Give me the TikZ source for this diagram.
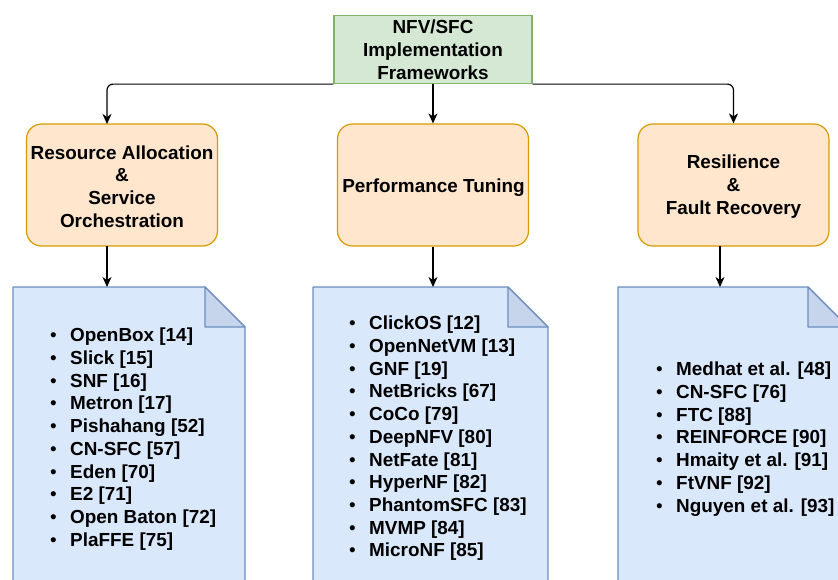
\documentclass[tikz,border=0pt]{standalone}
\usepackage{fontspec}
\setmainfont{Liberation Sans}
\usetikzlibrary{arrows.meta}
\definecolor{gfill}{HTML}{D5E8D4}
\definecolor{gline}{HTML}{82B366}
\definecolor{ofill}{HTML}{FFE6CC}
\definecolor{oline}{HTML}{D79B00}
\definecolor{bfill}{HTML}{DAE8FC}
\definecolor{bline}{HTML}{6C8EBF}
\definecolor{bfold}{HTML}{C6D5EC}
\newcommand\mybul{\llap{\mdseries\textbullet\hspace{13.5pt}}}
\begin{document}
\begin{tikzpicture}[x=1pt,y=-1pt,
  txt/.style={font=\fontsize{18.9}{22.8}\selectfont\bfseries, align=center, text=black, inner sep=0pt},
  topbox/.style={draw=gline, fill=gfill, line width=1.2pt, minimum width=198pt, minimum height=68pt, inner sep=0pt, txt},
  catbox/.style={draw=oline, fill=ofill, line width=1.2pt, rounded corners=15pt, minimum width=191pt, minimum height=122pt, inner sep=0pt},
  itemtxt/.style={font=\fontsize{18.9}{22.5}\selectfont\bfseries, anchor=base west, inner sep=0pt, text=black},
  arr/.style={draw=black, line width=1.2pt, -{Stealth[length=10pt,width=9pt,inset=3pt]}},
  doc/.style={draw=bline, fill=bfill, line width=1.2pt, line join=round},
  fold/.style={draw=bline, fill=bfold, line width=1.2pt, line join=round}]
\useasboundingbox (0,0) rectangle (838,579);
\clip (0,0) rectangle (838,579);

% documents
\draw[doc] (13,287) -- (205,287) -- (245,327) -- (245,620) -- (13,620) -- cycle;
\draw[fold] (205,287) -- (205,327) -- (245,327) -- cycle;
\draw[doc] (313,287) -- (508,287) -- (548,327) -- (548,620) -- (313,620) -- cycle;
\draw[fold] (508,287) -- (508,327) -- (548,327) -- cycle;
\draw[doc] (618,287) -- (808,287) -- (848,327) -- (848,620) -- (618,620) -- cycle;
\draw[fold] (808,287) -- (808,327) -- (848,327) -- cycle;
\coordinate (da) at (107,287);
\coordinate (db) at (433,287);
\coordinate (dc) at (720,287);

% boxes
\node[topbox] (top) at (433,49.5) {NFV/SFC\\Implementation\\Frameworks};
\node[catbox] (ra) at (122,185) {};
\node[catbox] (pt) at (433,185) {};
\node[catbox] (rf) at (733.5,185) {};
\node[txt] (ratxt) at (122,186.5) {Resource Allocation\\\&\\Service\\Orchestration};
\node[txt] (pttxt) at (433.5,187.5) {Performance Tuning};
\node[txt] (rftxt) at (733.5,186.5) {Resilience\\\&\\Fault Recovery};

\coordinate (raN) at (107,124);
\coordinate (raS) at (107,246);
\coordinate (rfS) at (720,246);

% connectors
\draw[arr, rounded corners=6pt] (top.south west) -| (raN);
\draw[arr] (top.south) -- (pt.north);
\draw[arr, rounded corners=6pt] (top.south east) -| (rf.north);
\draw[arr] (raS) -- (da);
\draw[arr] (pt.south) -- (db);
\draw[arr] (rfS) -- (dc);

% lists
\foreach \t [count=\i from 0] in {{OpenBox [14]},{Slick [15]},{SNF [16]},{Metron [17]},{Pishahang [52]},{CN-SFC [57]},{Eden [70]},{E2 [71]},{Open Baton [72]},{PlaFFE [75]}}
  \node[itemtxt] (la\i) at (70,{341.8+22.7*\i}) {\mybul\t};
\foreach \t [count=\i from 0] in {{ClickOS [12]},{OpenNetVM [13]},{GNF [19]},{NetBricks [67]},{CoCo [79]},{DeepNFV [80]},{NetFate [81]},{HyperNF [82]},{PhantomSFC [83]},{MVMP [84]},{MicroNF [85]}}
  \node[itemtxt] (lb\i) at (369,{329.8+22.7*\i}) {\mybul\t};
\foreach \t [count=\i from 0] in {{Medhat et al. [48]},{CN-SFC [76]},{FTC [88]},{REINFORCE [90]},{Hmaity et al. [91]},{FtVNF [92]},{Nguyen et al. [93]}}
  \node[itemtxt] (lc\i) at (676,{375.8+22.7*\i}) {\mybul\t};
\end{tikzpicture}
\end{document}
